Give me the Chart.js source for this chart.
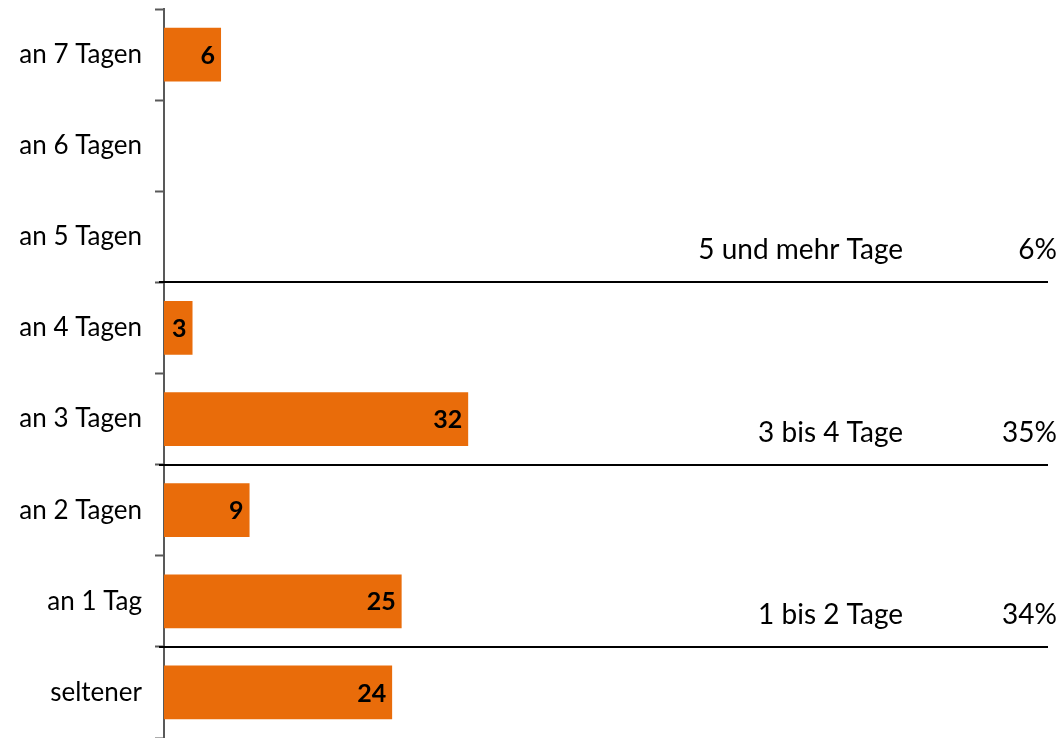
<!DOCTYPE html>
<html>
<head>
<meta charset="utf-8">
<script src="https://cdn.jsdelivr.net/npm/chart.js@4"></script>
<style>
    html, body { margin: 0; padding: 0; background: #fff; }
    #wrap { width: 1062px; height: 738px; position: relative; }
</style>
</head>
<body>
<div id="wrap"><canvas id="chart"></canvas></div>
<script>
const categories = ['an 7 Tagen', 'an 6 Tagen', 'an 5 Tagen', 'an 4 Tagen', 'an 3 Tagen', 'an 2 Tagen', 'an 1 Tag', 'seltener'];
const values = [6, 0, 0, 3, 32, 9, 25, 24];

// groups: label, share, index of last category in the group
const groupLabels = ['5 und mehr Tage', '3 bis 4 Tage', '1 bis 2 Tage'];
const groupShares = ['6%', '35%', '34%'];
const groupLastIndex = [2, 4, 6];

const FONT = 'Lato, "Open Sans", sans-serif';

// value labels at the end of each bar
const barLabels = {
    id: 'barLabels',
    afterDatasetsDraw(chart) {
        const ctx = chart.ctx;
        const meta = chart.getDatasetMeta(0);
        ctx.save();
        ctx.font = 'bold 25px ' + FONT;
        ctx.fillStyle = '#000';
        ctx.textAlign = 'right';
        ctx.textBaseline = 'middle';
        meta.data.forEach((bar, i) => {
            if (!values[i]) return;
            ctx.fillText(values[i], bar.x - 6, bar.y + 1);
        });
        ctx.restore();
    }
};

// separator lines between groups and the summary texts
const groupLines = {
    id: 'groupLines',
    afterDraw(chart) {
        const ctx = chart.ctx;
        const y = chart.scales.y;
        const area = chart.chartArea;
        ctx.save();
        groupLastIndex.forEach((idx, g) => {
            const ly = Math.round((y.getPixelForValue(idx) + y.getPixelForValue(idx + 1)) / 2);
            ctx.strokeStyle = '#000';
            ctx.lineWidth = 2;
            ctx.beginPath();
            ctx.moveTo(area.left - 5, ly);
            ctx.lineTo(area.right, ly);
            ctx.stroke();

            ctx.font = '28px ' + FONT;
            ctx.fillStyle = '#000';
            ctx.textAlign = 'right';
            ctx.textBaseline = 'middle';
            ctx.fillText(groupLabels[g], area.right - 145, ly - 32);
            ctx.fillText(groupShares[g], area.right + 9, ly - 32);
        });
        ctx.restore();
    }
};

const ctx = document.getElementById('chart').getContext('2d');
const myChart = new Chart(ctx, {
    type: 'bar',
    data: {
        labels: categories,
        datasets: [{
            data: values,
            backgroundColor: '#E96C0A',
            borderWidth: 0,
            categoryPercentage: 1,
            barPercentage: 0.59
        }]
    },
    options: {
        indexAxis: 'y',
        responsive: true,
        maintainAspectRatio: false,
        animation: false,
        layout: {
            padding: { top: 9, bottom: 0, left: 0, right: 14 }
        },
        plugins: {
            legend: { display: false },
            tooltip: { enabled: false }
        },
        scales: {
            x: {
                display: false,
                min: 0,
                max: 93
            },
            y: {
                afterFit(scale) {
                    scale.width = 164;
                    scale.paddingTop = 0;
                    scale.paddingBottom = 0;
                },
                border: { color: '#595959', width: 2 },
                grid: {
                    offset: true,
                    drawOnChartArea: false,
                    tickLength: 9,
                    tickColor: '#595959',
                    tickWidth: 2
                },
                ticks: {
                    padding: 13,
                    color: '#000',
                    font: { family: FONT, size: 26 }
                }
            }
        }
    },
    plugins: [barLabels, groupLines]
});
</script>
</body>
</html>
